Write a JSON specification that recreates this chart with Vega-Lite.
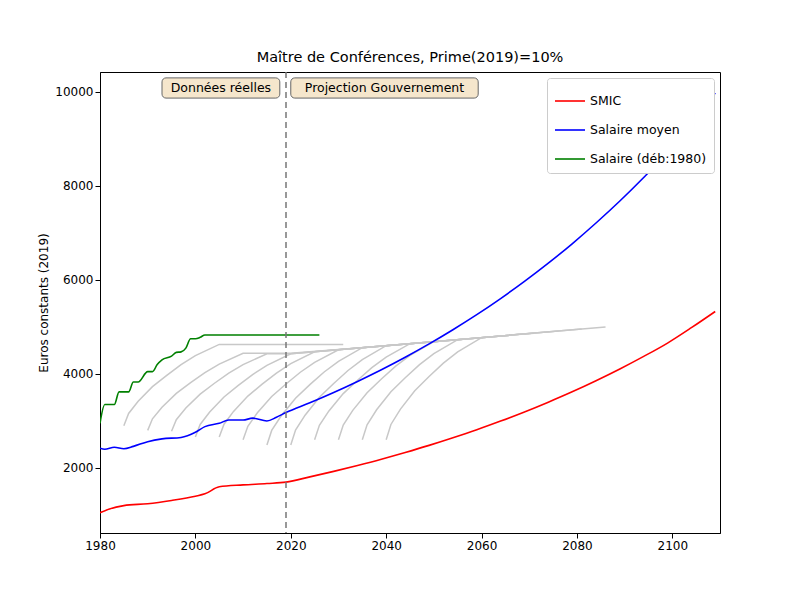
{
"$schema":"https://vega.github.io/schema/vega-lite/v6.json",
"width":620,"height":461,"autosize":"none",
"padding":{"left":100,"top":72,"right":80,"bottom":67},
"background":"white",
"config":{"view":{"stroke":"black"},"font":"DejaVu Sans","axis":{"grid":false,"labelFlush":false,"domainColor":"black","tickColor":"black","labelFontSize":12,"titleFontSize":12,"labelColor":"black","titleColor":"black","titleFontWeight":"normal"}},
"title":{"text":"Maître de Conférences, Prime(2019)=10%","fontSize":14.5,"fontWeight":"normal","offset":6},
"datasets":{
"main":[
{"s":"SMIC","year":1980,"v":1050},{"s":"SMIC","year":1982,"v":1130},{"s":"SMIC","year":1985,"v":1200},{"s":"SMIC","year":1990,"v":1240},{"s":"SMIC","year":1995,"v":1310},{"s":"SMIC","year":2000,"v":1400},{"s":"SMIC","year":2002,"v":1450},{"s":"SMIC","year":2005,"v":1600},{"s":"SMIC","year":2010,"v":1640},{"s":"SMIC","year":2015,"v":1670},{"s":"SMIC","year":2019,"v":1700},{"s":"SMIC","year":2024,"v":1811},{"s":"SMIC","year":2029,"v":1928},{"s":"SMIC","year":2034,"v":2054},{"s":"SMIC","year":2039,"v":2187},{"s":"SMIC","year":2044,"v":2330},{"s":"SMIC","year":2049,"v":2481},{"s":"SMIC","year":2054,"v":2643},{"s":"SMIC","year":2059,"v":2814},{"s":"SMIC","year":2064,"v":2998},{"s":"SMIC","year":2069,"v":3192},{"s":"SMIC","year":2074,"v":3400},{"s":"SMIC","year":2079,"v":3620},{"s":"SMIC","year":2084,"v":3856},{"s":"SMIC","year":2089,"v":4106},{"s":"SMIC","year":2094,"v":4374},{"s":"SMIC","year":2099,"v":4658},{"s":"SMIC","year":2104,"v":4985},{"s":"SMIC","year":2109,"v":5330},
{"s":"Salaire moyen","year":1980,"v":2420},{"s":"Salaire moyen","year":1981,"v":2400},{"s":"Salaire moyen","year":1983,"v":2440},{"s":"Salaire moyen","year":1985,"v":2410},{"s":"Salaire moyen","year":1987,"v":2460},{"s":"Salaire moyen","year":1990,"v":2560},{"s":"Salaire moyen","year":1993,"v":2620},{"s":"Salaire moyen","year":1997,"v":2650},{"s":"Salaire moyen","year":2000,"v":2760},{"s":"Salaire moyen","year":2002,"v":2880},{"s":"Salaire moyen","year":2005,"v":2950},{"s":"Salaire moyen","year":2007,"v":3020},{"s":"Salaire moyen","year":2010,"v":3020},{"s":"Salaire moyen","year":2012,"v":3060},{"s":"Salaire moyen","year":2015,"v":3000},{"s":"Salaire moyen","year":2017,"v":3080},{"s":"Salaire moyen","year":2019,"v":3180},{"s":"Salaire moyen","year":2024,"v":3387},{"s":"Salaire moyen","year":2029,"v":3606},{"s":"Salaire moyen","year":2034,"v":3841},{"s":"Salaire moyen","year":2039,"v":4090},{"s":"Salaire moyen","year":2044,"v":4356},{"s":"Salaire moyen","year":2049,"v":4640},{"s":"Salaire moyen","year":2054,"v":4942},{"s":"Salaire moyen","year":2059,"v":5262},{"s":"Salaire moyen","year":2064,"v":5605},{"s":"Salaire moyen","year":2069,"v":5970},{"s":"Salaire moyen","year":2074,"v":6358},{"s":"Salaire moyen","year":2079,"v":6770},{"s":"Salaire moyen","year":2084,"v":7212},{"s":"Salaire moyen","year":2089,"v":7680},{"s":"Salaire moyen","year":2094,"v":8180},{"s":"Salaire moyen","year":2099,"v":8710},{"s":"Salaire moyen","year":2104,"v":9310},{"s":"Salaire moyen","year":2109,"v":9980},
{"s":"Salaire (déb:1980)","year":1980,"v":2950},{"s":"Salaire (déb:1980)","year":1981,"v":3350},{"s":"Salaire (déb:1980)","year":1983,"v":3350},{"s":"Salaire (déb:1980)","year":1984,"v":3620},{"s":"Salaire (déb:1980)","year":1986,"v":3620},{"s":"Salaire (déb:1980)","year":1987,"v":3830},{"s":"Salaire (déb:1980)","year":1988,"v":3830},{"s":"Salaire (déb:1980)","year":1990,"v":4050},{"s":"Salaire (déb:1980)","year":1991,"v":4050},{"s":"Salaire (déb:1980)","year":1992,"v":4200},{"s":"Salaire (déb:1980)","year":1993,"v":4300},{"s":"Salaire (déb:1980)","year":1995,"v":4380},{"s":"Salaire (déb:1980)","year":1996,"v":4460},{"s":"Salaire (déb:1980)","year":1997,"v":4470},{"s":"Salaire (déb:1980)","year":1998,"v":4550},{"s":"Salaire (déb:1980)","year":1999,"v":4750},{"s":"Salaire (déb:1980)","year":2000,"v":4750},{"s":"Salaire (déb:1980)","year":2001,"v":4780},{"s":"Salaire (déb:1980)","year":2002,"v":4830},{"s":"Salaire (déb:1980)","year":2026,"v":4830}
],
"grey":[
{"c":1985,"year":1985,"v":2900},{"c":1985,"year":1986,"v":3160},{"c":1985,"year":1988,"v":3420},{"c":1985,"year":1991,"v":3730},{"c":1985,"year":1994,"v":3970},{"c":1985,"year":1997,"v":4200},{"c":1985,"year":2000,"v":4390},{"c":1985,"year":2005,"v":4630},{"c":1985,"year":2031,"v":4630},
{"c":1990,"year":1990,"v":2800},{"c":1990,"year":1991,"v":3046},{"c":1990,"year":1993,"v":3292},{"c":1990,"year":1996,"v":3587},{"c":1990,"year":1999,"v":3817},{"c":1990,"year":2002,"v":4030},{"c":1990,"year":2005,"v":4210},{"c":1990,"year":2010,"v":4440},{"c":1990,"year":2020,"v":4440},{"c":1990,"year":2036,"v":4570},
{"c":1995,"year":1995,"v":2780},{"c":1995,"year":1996,"v":3028},{"c":1995,"year":1998,"v":3275},{"c":1995,"year":2001,"v":3572},{"c":1995,"year":2004,"v":3803},{"c":1995,"year":2007,"v":4018},{"c":1995,"year":2010,"v":4199},{"c":1995,"year":2015,"v":4430},{"c":1995,"year":2020,"v":4430},{"c":1995,"year":2041,"v":4610},
{"c":2000,"year":2000,"v":2660},{"c":2000,"year":2001,"v":2926},{"c":2000,"year":2003,"v":3191},{"c":2000,"year":2006,"v":3510},{"c":2000,"year":2009,"v":3757},{"c":2000,"year":2012,"v":3988},{"c":2000,"year":2015,"v":4182},{"c":2000,"year":2020,"v":4430},{"c":2000,"year":2046,"v":4654},
{"c":2005,"year":2005,"v":2660},{"c":2005,"year":2006,"v":2932},{"c":2005,"year":2008,"v":3204},{"c":2005,"year":2011,"v":3530},{"c":2005,"year":2014,"v":3784},{"c":2005,"year":2017,"v":4020},{"c":2005,"year":2020,"v":4219},{"c":2005,"year":2025,"v":4473},{"c":2005,"year":2051,"v":4697},
{"c":2010,"year":2010,"v":2600},{"c":2010,"year":2011,"v":2887},{"c":2010,"year":2013,"v":3175},{"c":2010,"year":2016,"v":3520},{"c":2010,"year":2019,"v":3788},{"c":2010,"year":2022,"v":4037},{"c":2010,"year":2025,"v":4248},{"c":2010,"year":2030,"v":4516},{"c":2010,"year":2056,"v":4740},
{"c":2015,"year":2015,"v":2490},{"c":2015,"year":2016,"v":2800},{"c":2015,"year":2018,"v":3111},{"c":2015,"year":2021,"v":3483},{"c":2015,"year":2024,"v":3773},{"c":2015,"year":2027,"v":4042},{"c":2015,"year":2030,"v":4269},{"c":2015,"year":2035,"v":4559},{"c":2015,"year":2061,"v":4783},
{"c":2020,"year":2020,"v":2490},{"c":2020,"year":2021,"v":2807},{"c":2020,"year":2023,"v":3124},{"c":2020,"year":2026,"v":3504},{"c":2020,"year":2029,"v":3799},{"c":2020,"year":2032,"v":4074},{"c":2020,"year":2035,"v":4306},{"c":2020,"year":2040,"v":4602},{"c":2020,"year":2066,"v":4826},
{"c":2025,"year":2025,"v":2600},{"c":2025,"year":2026,"v":2907},{"c":2025,"year":2028,"v":3214},{"c":2025,"year":2031,"v":3582},{"c":2025,"year":2034,"v":3868},{"c":2025,"year":2037,"v":4134},{"c":2025,"year":2040,"v":4359},{"c":2025,"year":2045,"v":4645},{"c":2025,"year":2071,"v":4869},
{"c":2030,"year":2030,"v":2600},{"c":2030,"year":2031,"v":2913},{"c":2030,"year":2033,"v":3226},{"c":2030,"year":2036,"v":3602},{"c":2030,"year":2039,"v":3895},{"c":2030,"year":2042,"v":4166},{"c":2030,"year":2045,"v":4396},{"c":2030,"year":2050,"v":4688},{"c":2030,"year":2076,"v":4912},
{"c":2035,"year":2035,"v":2600},{"c":2035,"year":2036,"v":2920},{"c":2035,"year":2038,"v":3239},{"c":2035,"year":2041,"v":3623},{"c":2035,"year":2044,"v":3921},{"c":2035,"year":2047,"v":4198},{"c":2035,"year":2050,"v":4433},{"c":2035,"year":2055,"v":4731},{"c":2035,"year":2081,"v":4955},
{"c":2040,"year":2040,"v":2600},{"c":2040,"year":2041,"v":2926},{"c":2040,"year":2043,"v":3252},{"c":2040,"year":2046,"v":3644},{"c":2040,"year":2049,"v":3948},{"c":2040,"year":2052,"v":4231},{"c":2040,"year":2055,"v":4470},{"c":2040,"year":2060,"v":4774},{"c":2040,"year":2086,"v":4998}
],
"boxes":[
{"t":"Données réelles","x1":1993,"x2":2017.7,"xm":2005.35,"y1":9870,"y2":10300,"ym":10085},
{"t":"Projection Gouvernement","x1":2020,"x2":2059.3,"xm":2039.65,"y1":9870,"y2":10300,"ym":10085}
],
"vline":[{"year":2019}]
},
"layer":[
{"data":{"name":"grey"},"mark":{"type":"line","color":"#c8c8c8","strokeWidth":1.5,"clip":true},
 "encoding":{"x":{"field":"year","type":"quantitative","scale":{"domain":[1980,2110],"nice":false,"zero":false},"axis":{"values":[1980,2000,2020,2040,2060,2080,2100],"format":"d","title":null}},
 "y":{"field":"v","type":"quantitative","scale":{"domain":[617,10425],"nice":false,"zero":false},"axis":{"values":[2000,4000,6000,8000,10000],"format":"d","title":"Euros constants (2019)"}},
 "detail":{"field":"c"}}},
{"data":{"name":"main"},"mark":{"type":"line","strokeWidth":1.6,"clip":true,"interpolate":"monotone"},
 "encoding":{"x":{"field":"year","type":"quantitative"},"y":{"field":"v","type":"quantitative"},
 "color":{"field":"s","type":"nominal","scale":{"domain":["SMIC","Salaire moyen","Salaire (déb:1980)"],"range":["#ff0000","#0000ff","#008000"]},
 "legend":{"title":null,"orient":"top-right","offset":6,"fillColor":"white","strokeColor":"#cccccc","padding":7,"cornerRadius":3,"labelFontSize":12.5,"symbolType":"stroke","symbolSize":900,"symbolStrokeWidth":1.6,"rowPadding":6}}}},
{"data":{"name":"vline"},"mark":{"type":"rule","strokeDash":[6,4],"color":"#777777","strokeWidth":1.5},"encoding":{"x":{"field":"year","type":"quantitative"}}},
{"data":{"name":"boxes"},"mark":{"type":"rect","fill":"#f5e6cc","stroke":"#666666","cornerRadius":4},
 "encoding":{"x":{"field":"x1","type":"quantitative"},"x2":{"field":"x2"},"y":{"field":"y1","type":"quantitative"},"y2":{"field":"y2"}}},
{"data":{"name":"boxes"},"mark":{"type":"text","fontSize":12.5,"color":"black"},
 "encoding":{"x":{"field":"xm","type":"quantitative"},"y":{"field":"ym","type":"quantitative"},"text":{"field":"t"}}}
]
}
